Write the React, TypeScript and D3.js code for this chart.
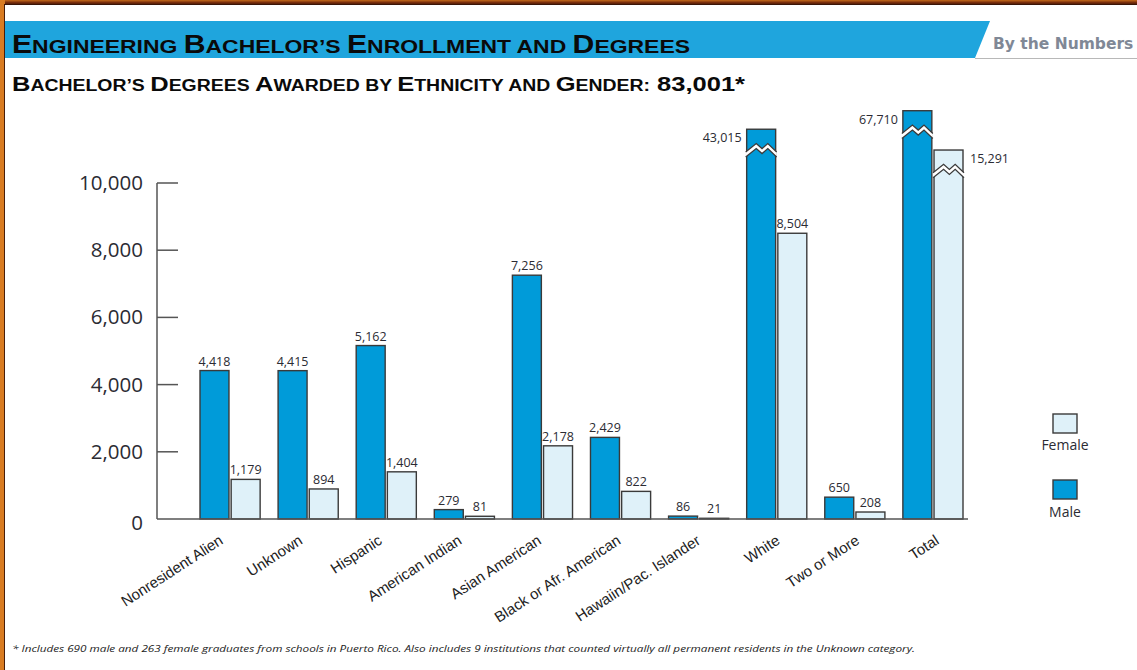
import React from "react";
import * as d3 from "d3";

const categories = [
  "Nonresident Alien",
  "Unknown",
  "Hispanic",
  "American Indian",
  "Asian American",
  "Black or Afr. American",
  "Hawaiin/Pac. Islander",
  "White",
  "Two or More",
  "Total",
];
const maleValues = [4418, 4415, 5162, 279, 7256, 2429, 86, 43015, 650, 67710];
const femaleValues = [1179, 894, 1404, 81, 2178, 822, 21, 8504, 208, 15291];
const yTicks = [0, 2000, 4000, 6000, 8000, 10000];
const axisMax = 10000;

const titleText = "Engineering Bachelor’s Enrollment and Degrees";
const subtitleText = "Bachelor’s Degrees Awarded by Ethnicity and Gender:";
const subtitleTotal = "83,001*";
const footnote =
  "* Includes 690 male and 263 female graduates from schools in Puerto Rico. Also includes 9 institutions that counted virtually all permanent residents in the Unknown category.";

const W = 1137;
const H = 670;
const MALE = "#009bd9";
const FEMALE = "#dff1f9";
const STROKE = "#3a3a3a";
const TEXT = "#2b2b33";
const BANNER = "#1fa5dd";

const smallCapsWords = (text: string, big: number, small: number, lower = new Set(["and", "by"])) => {
  const words = text.split(" ");
  const out: any[] = [];
  words.forEach((w, i) => {
    const sp = i < words.length - 1 ? " " : "";
    if (lower.has(w)) {
      out.push(
        <tspan key={i} fontSize={small}>
          {w.toUpperCase() + sp}
        </tspan>
      );
    } else {
      out.push(
        <tspan key={i + "a"} fontSize={big}>
          {w[0].toUpperCase()}
        </tspan>
      );
      out.push(
        <tspan key={i + "b"} fontSize={small}>
          {w.slice(1).toUpperCase() + sp}
        </tspan>
      );
    }
  });
  return out;
};

export default function App() {
  const y = d3.scaleLinear().domain([0, axisMax]).range([519, 183]);
  const yBreak = d3.scaleLinear().domain([axisMax, 70000]).range([154, 109]);
  const yOf = (v: number) => (v > axisMax ? yBreak(v) : y(v));

  const x = d3.scaleBand<string>().domain(categories).range([200, 963]).paddingInner(0.23).paddingOuter(0);
  const sub = d3.scaleBand<string>().domain(["m", "f"]).range([0, x.bandwidth()]).paddingInner(0.07);
  const labelX = d3.scalePoint<string>().domain(categories).range([224, 940]);
  const bw = sub.bandwidth();

  const zig = (bx: number, w: number, yc: number, off: number) => {
    const a = 4.2;
    return [
      [bx - 1, yc + a + off],
      [bx + w * 0.33, yc - a + off],
      [bx + w * 0.53, yc + a * 0.2 + off],
      [bx + w * 0.73, yc - a + off],
      [bx + w + 1, yc + a + off],
    ] as [number, number][];
  };
  const line = d3.line();

  const bars: any[] = [];
  categories.forEach((c, i) => {
    const gx = x(c)!;
    [
      { key: "m", v: maleValues[i], fill: MALE },
      { key: "f", v: femaleValues[i], fill: FEMALE },
    ].forEach((b) => {
      const bx = gx + sub(b.key)!;
      const top = yOf(b.v);
      const broken = b.v > axisMax;
      const label = d3.format(",")(b.v);
      const yc = top + 21;
      bars.push(
        <g key={c + b.key}>
          <rect x={bx} y={top} width={bw} height={y(0) - top} fill={b.fill} stroke={STROKE} strokeWidth={1.4} />
          {broken && (
            <g>
              <path
                d={(line(zig(bx, bw, yc, -2.5)) as string) + "L" + zig(bx, bw, yc, 2.5).reverse().map((p) => p.join(",")).join("L") + "Z"}
                fill="#fff"
              />
              <path d={line(zig(bx, bw, yc, -2.5)) as string} fill="none" stroke={STROKE} strokeWidth={1.3} />
              <path d={line(zig(bx, bw, yc, 2.5)) as string} fill="none" stroke={STROKE} strokeWidth={1.3} />
            </g>
          )}
          {broken ? (
            <text
              x={b.key === "m" ? bx - 5 : bx + bw + 7}
              y={top + 13}
              textAnchor={b.key === "m" ? "end" : "start"}
              fontSize={12.5}
              fill={TEXT}
              fontFamily="'Open Sans', sans-serif"
            >
              {label}
            </text>
          ) : (
            <text x={bx + bw / 2} y={top - 5} textAnchor="middle" fontSize={12.5} fill={TEXT} fontFamily="'Open Sans', sans-serif">
              {label}
            </text>
          )}
        </g>
      );
    });
  });

  return (
    <svg width={W} height={H} style={{ position: "absolute", left: 0, top: 0, background: "#fff" }}>
      <defs>
        <linearGradient id="topb" x1="0" y1="0" x2="0" y2="1">
          <stop offset="0" stopColor="#c46a1a" />
          <stop offset="0.5" stopColor="#7a2e0c" />
          <stop offset="1" stopColor="#3a1406" />
        </linearGradient>
      </defs>
      {/* frame */}
      <rect x={0} y={0} width={W} height={5} fill="url(#topb)" />
      <rect x={0} y={0} width={5} height={H} fill="#d97c22" />
      <line x1={4.5} y1={4} x2={4.5} y2={H} stroke="#4a1e08" strokeWidth={1} />
      <line x1={4} y1={4.5} x2={W} y2={4.5} stroke="#3a1406" strokeWidth={1} />

      {/* banner */}
      <path d="M5,21 L990,21 L975,58 L5,58 Z" fill={BANNER} />
      <line x1={975} y1={58.5} x2={W} y2={58.5} stroke="#b8b8b8" strokeWidth={1.2} />
      <text x={993} y={49} fontSize={15.5} fontWeight="bold" fill="#808896" fontFamily="'DejaVu Sans', sans-serif">
        By the Numbers
      </text>
      <text
        x={12}
        y={53}
        fontWeight="bold"
        fill="#0a0a0a"
        fontFamily="'Liberation Sans Narrow', 'Liberation Sans', Arial, sans-serif"
        textLength={678}
        lengthAdjust="spacingAndGlyphs"
      >
        {smallCapsWords(titleText, 25, 19)}
      </text>
      <text
        x={12}
        y={91}
        fontWeight="bold"
        fill="#0a0a0a"
        fontFamily="'Liberation Sans Narrow', 'Liberation Sans', Arial, sans-serif"
        textLength={733}
        lengthAdjust="spacingAndGlyphs"
      >
        {smallCapsWords(subtitleText, 21, 16)}
        <tspan fontSize={21}>{" " + subtitleTotal}</tspan>
      </text>

      {/* y axis */}
      <line x1={157} y1={y(axisMax)} x2={157} y2={y(0)} stroke="#555" strokeWidth={1.5} />
      {yTicks.map((t) => (
        <g key={t}>
          {t > 0 && <line x1={157} x2={178} y1={y(t)} y2={y(t)} stroke="#555" strokeWidth={1.5} />}
          <text
            x={143}
            y={y(t) + (t === 0 ? 11 : 7)}
            textAnchor="end"
            fontSize={20.5}
            fill={TEXT}
            fontFamily="'Open Sans', sans-serif"
          >
            {d3.format(",")(t)}
          </text>
        </g>
      ))}

      {bars}
      <line x1={157} y1={y(0)} x2={968} y2={y(0)} stroke="#555" strokeWidth={1.5} />

      {/* x labels */}
      {categories.map((c) => (
        <text
          key={c}
          transform={`translate(${labelX(c)},543) rotate(-33)`}
          textAnchor="end"
          fontSize={15}
          fill="#222"
          fontFamily="'Liberation Sans', Arial, sans-serif"
        >
          {c}
        </text>
      ))}

      {/* legend */}
      <rect x={1053} y={414} width={24} height={19} fill={FEMALE} stroke={STROKE} strokeWidth={1.4} />
      <text x={1065} y={450} textAnchor="middle" fontSize={14} fill={TEXT} fontFamily="'Open Sans', sans-serif">
        Female
      </text>
      <rect x={1053} y={480} width={24} height={19} fill={MALE} stroke={STROKE} strokeWidth={1.4} />
      <text x={1065} y={517} textAnchor="middle" fontSize={14} fill={TEXT} fontFamily="'Open Sans', sans-serif">
        Male
      </text>

      {/* footnote */}
      <text
        x={12}
        y={652}
        fontSize={9.5}
        fontStyle="italic"
        fill="#222"
        fontFamily="'Open Sans', sans-serif"
        textLength={903}
        lengthAdjust="spacingAndGlyphs"
      >
        {footnote}
      </text>
    </svg>
  );
}
